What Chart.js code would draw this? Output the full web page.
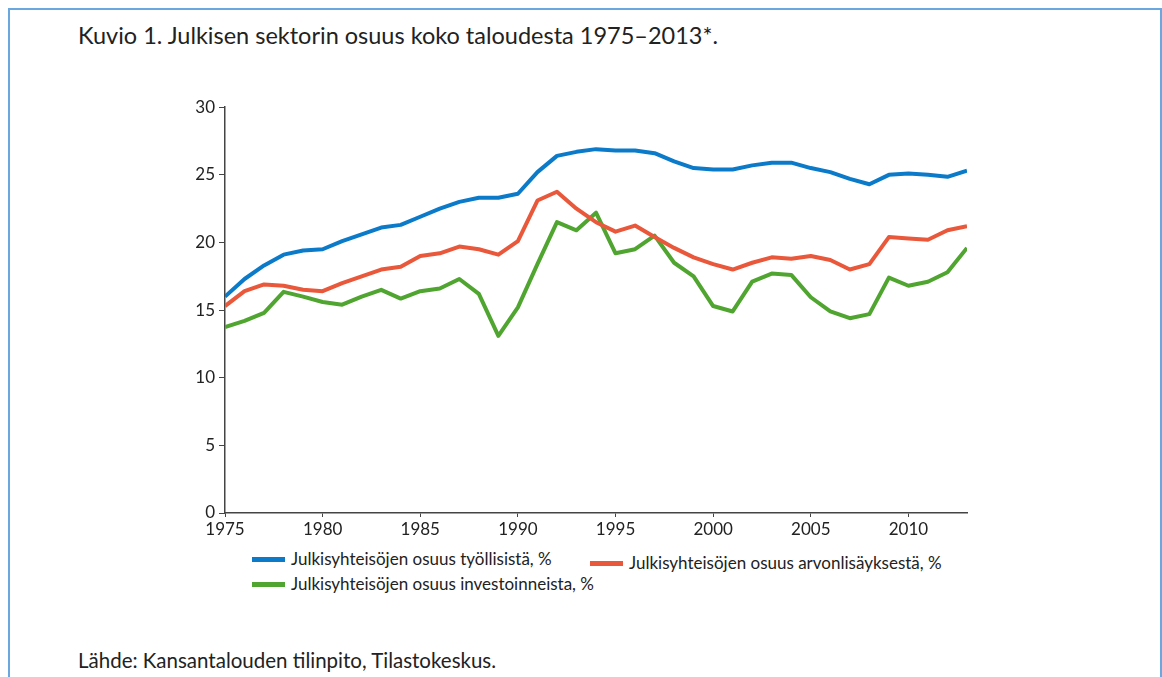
<!DOCTYPE html>
<html>
<head>
<meta charset="utf-8">
<script src="https://cdn.jsdelivr.net/npm/chart.js@4"></script>
<style>
  body { margin: 0; background: #fff; font-family: Lato, "Open Sans", sans-serif; color: #222; }
  #frame { position: absolute; left: 8px; top: 8px; width: 1150px; height: 700px; border: 2px solid #6aa6e0; }
  #title { position: absolute; left: 78px; top: 21px; font-size: 23.5px; }
  #source { position: absolute; left: 78px; top: 648px; font-size: 20.5px; }
  #chartBox { position: absolute; left: 150px; top: 93px; width: 830px; height: 454px; }
  .leg { position: absolute; font-size: 17px; color: #222; white-space: nowrap; }
  .leg span { display: inline-block; width: 33px; height: 5px; vertical-align: middle; margin-right: 6px; position: relative; top: -1px; }
</style>
</head>
<body>
<div id="frame"></div>
<div id="title">Kuvio 1. Julkisen sektorin osuus koko taloudesta 1975–2013*.</div>
<div id="chartBox"><canvas id="myChart"></canvas></div>
<div id="legend"></div>
<div id="source">Lähde: Kansantalouden tilinpito, Tilastokeskus.</div>
<script>
// data
const years = [];
for (let y = 1975; y <= 2013; y++) years.push(y);

const tyollisista = [16.0, 17.3, 18.3, 19.1, 19.4, 19.5, 20.1, 20.6, 21.1, 21.3, 21.9, 22.5, 23.0, 23.3, 23.3, 23.6,
    25.2, 26.4, 26.7, 26.9, 26.8, 26.8, 26.6, 26.0, 25.5, 25.4, 25.4, 25.7, 25.9, 25.9, 25.5, 25.2, 24.7, 24.3,
    25.0, 25.1, 25.0, 24.85, 25.3];
const arvonlisaysesta = [15.3, 16.4, 16.9, 16.8, 16.5, 16.4, 17.0, 17.5, 18.0, 18.2, 19.0, 19.2, 19.7, 19.5, 19.1, 20.1,
    23.1, 23.75, 22.5, 21.5, 20.8, 21.25, 20.4, 19.6, 18.9, 18.4, 18.0, 18.5, 18.9, 18.8, 19.0, 18.7, 18.0, 18.4,
    20.4, 20.3, 20.2, 20.9, 21.2];
const investoinneista = [13.75, 14.2, 14.8, 16.35, 16.0, 15.6, 15.4, 16.0, 16.5, 15.85, 16.4, 16.6, 17.3, 16.2, 13.1, 15.2,
    18.4, 21.5, 20.9, 22.2, 19.2, 19.5, 20.5, 18.5, 17.5, 15.3, 14.9, 17.1, 17.7, 17.6, 15.95, 14.9, 14.4, 14.7,
    17.4, 16.8, 17.1, 17.8, 19.6];

const xTicks = [1975, 1980, 1985, 1990, 1995, 2000, 2005, 2010];
const yTicks = [0, 5, 10, 15, 20, 25, 30];

const seriesNames = ['Julkisyhteisöjen osuus työllisistä, %', 'Julkisyhteisöjen osuus arvonlisäyksestä, %', 'Julkisyhteisöjen osuus investoinneista, %'];
const seriesColors = ['#0b7bc9', '#e9583b', '#4fa52f'];
const seriesValues = [tyollisista, arvonlisaysesta, investoinneista];

// legend (html)
const legendPos = [[252, 548], [590, 552], [252, 573]];
const legendDiv = document.getElementById('legend');
seriesNames.forEach((name, i) => {
    const d = document.createElement('div');
    d.className = 'leg';
    d.style.left = legendPos[i][0] + 'px';
    d.style.top = legendPos[i][1] + 'px';
    d.innerHTML = '<span style="background:' + seriesColors[i] + '"></span>' + name;
    legendDiv.appendChild(d);
});

const ctx = document.getElementById('myChart').getContext('2d');
new Chart(ctx, {
    type: 'line',
    data: {
        datasets: seriesValues.map((vals, i) => ({
            label: seriesNames[i],
            data: years.map((y, j) => ({ x: y, y: vals[j] })),
            borderColor: seriesColors[i],
            backgroundColor: seriesColors[i],
            borderWidth: 4,
            pointRadius: 0,
            tension: 0,
            borderJoinStyle: 'round',
            fill: false
        }))
    },
    options: {
        responsive: true,
        maintainAspectRatio: false,
        animation: false,
        layout: { padding: { top: 7, right: 13, left: 0, bottom: 0 } },
        plugins: { legend: { display: false }, tooltip: { enabled: false } },
        scales: {
            x: {
                type: 'linear',
                min: 1975,
                max: 2013,
                afterBuildTicks: s => { s.ticks = xTicks.map(v => ({ value: v })); },
                afterFit: s => { s.height = 34; },
                border: { display: true, color: '#444', width: 1.5 },
                grid: { drawOnChartArea: false, drawTicks: true, tickLength: 4, color: '#444' },
                ticks: { color: '#222', font: { family: 'Lato', size: 17 }, padding: 2, maxRotation: 0,
                    callback: v => String(v) }
            },
            y: {
                min: 0,
                max: 30,
                afterBuildTicks: s => { s.ticks = yTicks.map(v => ({ value: v })); },
                afterFit: s => { s.width = 75; },
                border: { display: true, color: '#444', width: 1.5 },
                grid: { drawOnChartArea: false, drawTicks: true, tickLength: 6, color: '#444' },
                ticks: { color: '#222', font: { family: 'Lato', size: 17 }, padding: 4 }
            }
        }
    }
});
</script>
</body>
</html>
